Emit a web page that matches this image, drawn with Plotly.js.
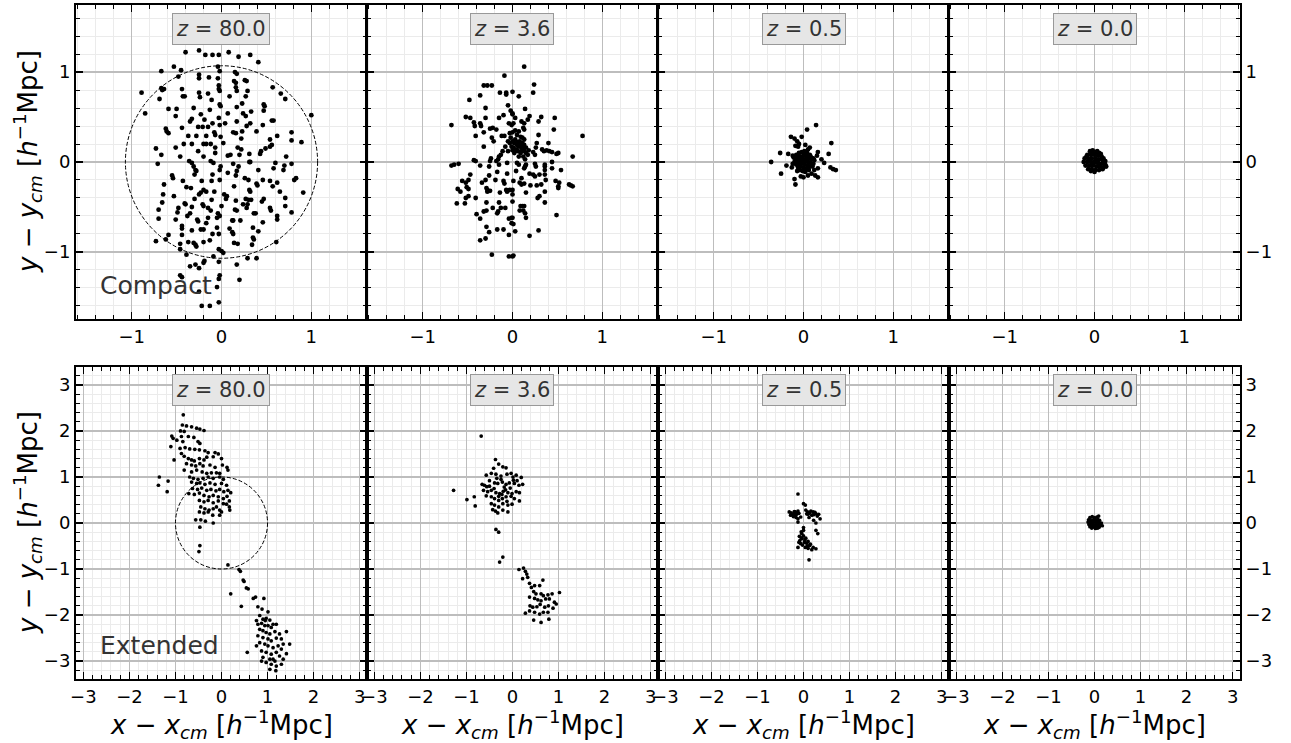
<!DOCTYPE html>
<html>
<head>
<meta charset="utf-8">
<script src="https://cdn.plot.ly/plotly-3.0.1.min.js"></script>
<style>html,body{margin:0;padding:0;background:#fff;}#plot{width:1291px;height:743px;}</style>
</head>
<body>
<div id="plot"></div>
<script>
// ---------------- DATA ----------------
const redshiftLabels = ['80.0', '3.6', '0.5', '0.0'];
const rowLabels = ['Compact', 'Extended'];
const compactRadius = 1.07;
const extendedRadius = 1.0;
const topTickVals = [-1, 0, 1];
const bottomTickVals = [-3, -2, -1, 0, 1, 2, 3];

const compact_z80 = [
[-0.03,1.36],[0.12,1.34],[-0.40,1.22],[-0.25,1.24],[-0.18,1.19],[-0.10,1.19],[-0.03,1.19],[0.08,1.22],[0.19,1.17],[0.32,1.19],[0.41,1.11],
[-0.53,1.06],[-0.67,1.01],[-0.45,1.02],[-0.04,1.06],[-0.02,1.01],[0.15,1.00],[0.17,0.98],[-0.25,0.97],[-0.14,0.94],[-0.48,0.95],[-0.25,0.93],[-0.04,0.93],[0.14,0.90],[0.16,0.88],[0.26,0.91],[0.28,0.90],
[-0.67,0.82],[-0.66,0.80],[-0.64,0.81],[-0.44,0.81],[-0.03,0.85],[-0.03,0.81],[-0.02,0.79],[0.16,0.83],[0.17,0.79],[0.29,0.79],[0.57,0.83],[-0.89,0.77],[-0.25,0.77],[-0.24,0.72],[-0.15,0.76],[-0.43,0.73],[-0.41,0.73],[0.09,0.73],[0.27,0.73],[0.66,0.76],[0.71,0.70],[-0.69,0.70],[-0.11,0.69],[-0.02,0.64],[-0.01,0.62],[0.17,0.61],[0.23,0.65],[0.47,0.64],[0.48,0.62],[0.47,0.57],[-0.31,0.60],[-0.59,0.59],[-0.50,0.59],[-0.85,0.54],[-0.51,0.51],[-0.13,0.58],[0.07,0.54],[0.24,0.54],[0.27,0.51],[0.33,0.56],[1.00,0.52],[-0.23,0.53],[-0.19,0.47],[-0.33,0.48],[-0.35,0.45],[-0.10,0.43],[-0.03,0.49],[-0.02,0.41],[0.04,0.43],[0.17,0.45],[0.28,0.40],[0.32,0.43],[0.46,0.41],[0.56,0.46],[0.58,0.46],
[-0.62,0.37],[-0.61,0.34],[-0.59,0.32],[-0.44,0.38],[-0.26,0.39],[-0.21,0.39],[-0.15,0.39],[-0.08,0.33],[-0.07,0.30],[0.13,0.33],[0.16,0.32],[0.23,0.34],[0.39,0.34],[0.78,0.33],[-0.37,0.29],[-0.28,0.29],[-0.17,0.29],[-0.01,0.28],[0.62,0.29],[0.78,0.24],[0.89,0.22],[-0.42,0.20],[-0.33,0.20],[-0.20,0.20],[-0.17,0.20],[-0.12,0.20],[0.02,0.21],[0.22,0.26],[0.54,0.25],[0.56,0.19],[0.18,0.16],[0.22,0.14],[-0.73,0.15],[0.49,0.15],[0.54,0.17],[-0.51,0.16],[-0.07,0.16],[-0.26,0.12],[-0.07,0.10],[0.10,0.08],[0.07,0.07],[0.20,0.08],[0.44,0.12],[0.43,0.09],[-0.67,0.08],[-0.46,0.06],[-0.20,0.06],[0.72,0.06],[0.31,0.09],
[0.78,-0.02],[-0.71,-0.02],[-0.36,0.01],[-0.33,-0.01],[-0.12,0.01],[-0.09,-0.01],[0.31,0.00],[0.32,0.00],[0.13,-0.02],[0.60,-0.01],[-0.31,-0.05],[-0.29,-0.09],[-0.28,-0.10],[-0.01,-0.05],[-0.02,-0.09],[0.19,-0.05],[0.17,-0.10],[0.70,-0.04],[0.58,-0.07],[0.69,-0.09],[0.41,-0.09],[-0.30,-0.14],[-0.10,-0.14],[0.07,-0.12],[-0.55,-0.15],[-0.54,-0.18],[0.16,-0.15],[0.26,-0.18],[0.30,-0.20],[0.46,-0.20],[0.54,-0.21],[-0.43,-0.21],[-0.22,-0.21],[-0.11,-0.21],[-0.02,-0.20],[0.81,-0.20],[0.83,-0.18],[0.39,-0.24],[0.40,-0.26],[-0.64,-0.25],[-0.39,-0.28],[-0.34,-0.29],[-0.20,-0.31],[-0.17,-0.33],[-0.08,-0.33],[0.14,-0.27],[0.31,-0.31],[0.32,-0.33],[0.57,-0.27],[0.62,-0.23],
[-0.25,-0.36],[-0.23,-0.34],[0.03,-0.36],[0.06,-0.38],[-0.65,-0.36],[-0.53,-0.38],[0.65,-0.33],[0.91,-0.34],[0.27,-0.41],[0.30,-0.42],[0.33,-0.42],[-0.30,-0.41],[-0.11,-0.42],[0.05,-0.41],[0.16,-0.43],[0.47,-0.41],[0.45,-0.44],[0.71,-0.40],[-0.66,-0.45],[-0.41,-0.46],[-0.40,-0.47],[-0.21,-0.47],[-0.20,-0.49],[0.24,-0.47],[0.29,-0.47],[-0.33,-0.50],[0.00,-0.49],[0.71,-0.49],[0.28,-0.51],[-0.48,-0.51],[-0.49,-0.56],[-0.15,-0.51],[-0.12,-0.54],[0.54,-0.51],[0.55,-0.54],[0.15,-0.53],[0.17,-0.54],[-0.04,-0.57],[-0.70,-0.53],[0.36,-0.57],[0.38,-0.57],[0.78,-0.56],[-0.35,-0.57],[-0.38,-0.60],[-0.02,-0.60],[0.12,-0.65],[0.13,-0.65],[0.21,-0.65],[0.46,-0.67],[0.62,-0.60],[0.62,-0.64],[-0.70,-0.63],[-0.51,-0.64],[-0.27,-0.64],[-0.26,-0.66],[-0.15,-0.62],[-0.05,-0.62],[-0.17,-0.68],
[-0.44,-0.71],[-0.44,-0.74],[-0.05,-0.73],[0.09,-0.74],[0.35,-0.73],[0.41,-0.77],[-0.33,-0.76],[-0.23,-0.75],[-0.20,-0.75],[0.12,-0.78],[0.13,-0.80],[-0.10,-0.80],[-0.03,-0.80],[-0.59,-0.81],[-0.44,-0.81],[0.35,-0.84],[0.36,-0.86],[0.61,-0.89],[-0.13,-0.87],[-0.20,-0.89],[-0.73,-0.88],[-0.62,-0.86],[-0.37,-0.89],[-0.31,-0.90],[-0.29,-0.92],[-0.28,-0.94],[-0.46,-0.91],[0.14,-0.90],[0.18,-0.91],[0.34,-0.92],[-0.46,-0.97],[-0.03,-0.97],[0.00,-0.99],[0.02,-1.01],[-0.39,-1.03],[-0.09,-1.05],[0.29,-1.07],[0.39,-1.07],[-0.19,-1.10],[-0.20,-1.12],[-0.29,-1.14],[-0.35,-1.16],[-0.25,-1.18],[-0.03,-1.11],[0.17,-1.14],[-0.46,-1.26],[-0.44,-1.28],[-0.02,-1.26],[-0.03,-1.30],[0.20,-1.31],[-0.05,-1.39],[-0.25,-1.44],[-0.22,-1.60],[-0.13,-1.60],[-0.03,-1.56]
];

const compact_z36 = [
[0.13,1.06],[-0.09,0.96],[-0.32,0.85],[-0.28,0.85],[-0.23,0.85],[0.24,0.86],[-0.14,0.77],[-0.07,0.77],[-0.07,0.75],[0.00,0.78],[0.23,0.77],[-0.36,0.74],[0.07,0.73],[-0.48,0.69],[-0.05,0.63],[-0.30,0.60],[0.14,0.59],[-0.02,0.57],[0.00,0.54],[-0.10,0.52],[-0.52,0.50],[-0.47,0.49],[-0.30,0.49],[-0.15,0.49],[0.00,0.53],[0.03,0.49],[0.19,0.51],[0.17,0.47],[0.32,0.50],[0.47,0.49],[-0.43,0.44],[-0.42,0.40],[-0.36,0.43],[-0.35,0.40],[-0.04,0.43],[-0.01,0.41],[0.01,0.43],[0.10,0.45],[0.13,0.43],[0.29,0.45],[-0.68,0.41],[-0.25,0.37],[-0.22,0.38],[-0.32,0.33],[-0.18,0.36],[0.03,0.35],[0.07,0.34],[0.12,0.38],[0.13,0.36],[0.46,0.36],[0.78,0.29],[-0.41,0.29],[-0.12,0.29],[-0.09,0.29],[-0.03,0.32],[0.00,0.33],[0.11,0.27],[0.29,0.30],[-0.23,0.27],[-0.21,0.23],
[-0.05,0.23],[-0.03,0.21],[0.00,0.23],[0.02,0.21],[0.05,0.19],[0.07,0.17],[0.10,0.16],[0.12,0.14],[0.13,0.12],[0.15,0.10],[-0.01,0.17],[0.01,0.16],[0.04,0.14],[0.06,0.12],[0.09,0.10],[0.11,0.17],[0.13,0.19],[0.03,0.25],[0.08,0.23],[0.00,0.13],[-0.05,0.12],[-0.08,0.17],[0.15,0.16],[0.17,0.08],[0.12,0.06],[0.07,0.06],[0.14,0.03],[0.05,0.30],[0.09,0.28],[-0.02,0.27],[0.11,0.21],[0.18,0.13],[0.02,0.10],[0.08,0.19],[0.10,0.12],[0.06,0.22],[0.13,0.25],
[-0.32,0.17],[0.27,0.21],[0.26,0.16],[0.40,0.21],[0.23,0.11],[0.25,0.08],[0.38,0.13],[0.41,0.12],[0.44,0.11],[0.49,0.09],[0.51,0.10],[0.33,0.14],[0.35,0.12],[-0.11,0.12],[-0.13,0.08],[-0.15,0.06],[-0.16,0.03],[-0.18,0.01],[-0.24,0.04],[-0.25,0.01],[0.67,0.06],[-0.43,0.02],[-0.41,0.01],[-0.68,-0.04],[-0.65,-0.03],[-0.60,-0.02],[-0.36,-0.04],[-0.26,-0.05],[-0.15,-0.03],[-0.06,-0.01],[0.05,-0.01],[0.07,-0.03],[0.14,-0.05],[0.15,-0.03],[0.25,-0.02],[0.26,-0.05],[0.36,-0.03],[0.36,-0.05],[0.44,0.00],[0.13,-0.07],[0.36,-0.09],[0.44,-0.07],[0.54,-0.09],[-0.17,-0.11],[-0.06,-0.13],[0.04,-0.10],[0.19,-0.13],[0.23,-0.14],[0.25,-0.16],[0.30,-0.14],[-0.47,-0.14],[-0.26,-0.15],[0.36,-0.14],[0.10,-0.18],
[-0.49,-0.20],[-0.52,-0.23],[-0.56,-0.21],[-0.19,-0.20],[-0.10,-0.21],[-0.09,-0.24],[-0.34,-0.23],[-0.30,-0.20],[0.01,-0.21],[0.37,-0.20],[0.48,-0.21],[0.52,-0.23],[0.63,-0.25],[0.65,-0.26],[0.67,-0.27],[0.32,-0.25],[0.08,-0.23],[0.10,-0.25],[0.13,-0.24],[0.20,-0.26],[0.27,-0.26],[0.51,-0.27],[0.51,-0.29],[-0.61,-0.30],[-0.58,-0.33],[-0.51,-0.28],[-0.49,-0.30],[-0.29,-0.29],[-0.28,-0.31],[-0.25,-0.32],[-0.28,-0.33],[-0.07,-0.31],[-0.06,-0.33],[-0.03,-0.31],[0.00,-0.31],[0.15,-0.34],[-0.14,-0.34],[0.36,-0.33],[-0.52,-0.40],[-0.49,-0.38],[-0.53,-0.46],[-0.62,-0.46],[-0.41,-0.40],[0.00,-0.36],[0.00,-0.44],[0.28,-0.40],[0.30,-0.38],[0.36,-0.45],[-0.15,-0.45],[-0.29,-0.45],[0.09,-0.49],[0.11,-0.49],[0.13,-0.49],[-0.22,-0.51],[-0.13,-0.51],[-0.08,-0.51],[0.08,-0.54],[0.12,-0.54],[0.14,-0.57],[-0.32,-0.55],[-0.29,-0.54],[-0.17,-0.57],[-0.16,-0.55],[-0.40,-0.58],[0.49,-0.59],[-0.36,-0.63],[-0.01,-0.62],[0.00,-0.62],[-0.04,-0.63],[0.15,-0.62],[-0.01,-0.68],[0.01,-0.69],[-0.29,-0.72],[-0.17,-0.75],[-0.10,-0.75],[0.03,-0.77],[0.29,-0.76],[-0.26,-0.78],[-0.04,-0.81],[0.19,-0.82],[-0.30,-0.85],[-0.36,-0.87],[-0.23,-1.03],[-0.04,-1.05],[0.00,-1.05],[0.01,-1.04]
];

const compact_z05 = [
[0.14,0.41],[0.04,0.36],[-0.14,0.28],[-0.10,0.26],[-0.07,0.23],[-0.02,0.28],[0.31,0.21],[-0.09,0.18],[-0.06,0.17],[0.07,0.16],[0.05,0.14],[0.16,0.11],[-0.26,0.10],[-0.17,0.09],[0.28,0.09],[-0.36,0.00],[0.15,0.07],[0.23,-0.01],[0.30,-0.06],[0.33,-0.08],[0.36,-0.09],[-0.19,-0.04],[0.16,-0.07],[-0.25,-0.13],[-0.07,-0.10],[-0.03,-0.16],[0.00,-0.17],[0.09,-0.13],[0.13,-0.15],[0.16,-0.17],[-0.10,-0.19],[-0.09,-0.25],[0.05,-0.15],[-0.12,0.07],[0.11,0.04],[-0.13,-0.06],[0.12,-0.09],[0.20,0.03],[-0.05,0.20],[0.02,0.19],
[-0.08,0.08],[-0.05,0.10],[-0.02,0.11],[0.01,0.12],[0.04,0.10],[0.07,0.08],[-0.09,0.04],[-0.06,0.05],[-0.03,0.06],[0.00,0.07],[0.03,0.06],[0.06,0.04],[0.09,0.03],[-0.10,0.00],[-0.07,0.01],[-0.04,0.02],[-0.01,0.03],[0.02,0.02],[0.05,0.00],[0.08,-0.01],[0.11,-0.02],[-0.08,-0.03],[-0.05,-0.02],[-0.02,-0.01],[0.01,-0.02],[0.04,-0.04],[0.07,-0.05],[0.10,-0.05],[-0.06,-0.06],[-0.03,-0.05],[0.00,-0.06],[0.03,-0.08],[0.06,-0.09],[-0.04,-0.09],[-0.01,-0.10],[0.02,-0.11],[0.00,0.00],[-0.02,0.05],[0.03,0.03],[0.01,0.09],[-0.06,0.08],[0.05,-0.07],[-0.11,0.05],[0.08,0.06],[0.12,0.02],[-0.12,-0.02]
];

const compact_z00 = [
[-0.05,0.12],[-0.02,0.13],[0.02,0.11],[0.05,0.10],[-0.08,0.08],[-0.04,0.08],[0.00,0.08],[0.04,0.07],[0.08,0.06],[-0.11,0.04],[-0.07,0.04],[-0.03,0.04],[0.01,0.04],[0.05,0.03],[0.09,0.02],[0.12,0.01],[-0.12,0.00],[-0.08,0.00],[-0.04,0.00],[0.00,0.00],[0.04,-0.01],[0.08,-0.02],[0.12,-0.03],[-0.10,-0.04],[-0.06,-0.04],[-0.02,-0.04],[0.02,-0.05],[0.06,-0.05],[0.10,-0.06],[0.13,-0.05],[-0.07,-0.08],[-0.03,-0.08],[0.01,-0.09],[0.05,-0.09],[0.09,-0.08],[-0.04,-0.10],[0.00,-0.11],[0.03,0.12],[-0.09,0.06],[0.07,0.09],[0.10,0.04],[-0.01,-0.02],[0.03,0.01],[-0.05,0.02],[0.06,-0.03],[-0.02,0.10],[0.11,-0.01]
];

const extended_z80 = [
[-0.85,2.70],[-0.83,2.35],[-0.85,2.13],[-0.76,2.11],[-0.65,2.09],[-0.54,2.06],[-0.47,2.04],[-0.38,2.01],[-1.08,1.89],[-1.05,1.84],[-0.89,2.00],[-0.81,1.99],[-0.87,1.88],[-0.72,1.88],[-0.60,1.86],[-0.97,1.80],[-0.84,1.77],[-0.51,1.77],[-0.47,1.73],[-1.10,1.66],[-0.90,1.62],[-0.79,1.64],[-0.69,1.61],[-0.58,1.60],[-0.48,1.59],[-0.36,1.57],[-0.29,1.53],[-0.14,1.53],[-0.07,1.50],[-0.87,1.51],[-0.81,1.45],[-1.03,1.37],[-0.72,1.40],[-0.65,1.37],[-0.59,1.35],[-0.48,1.40],[-0.38,1.37],[-0.32,1.43],[-0.18,1.44],[0.00,1.40],
[-0.76,1.29],[-0.65,1.26],[-0.56,1.24],[-0.47,1.29],[-0.40,1.24],[-0.25,1.26],[-0.14,1.21],[0.02,1.26],[0.12,1.21],[0.14,1.15],[-0.81,1.15],[-0.65,1.11],[-0.54,1.15],[-0.42,1.11],[-0.32,1.08],[-0.22,1.09],[-0.11,1.09],[-0.04,1.08],[-1.35,1.00],[-1.37,0.82],[-1.16,0.91],[-1.18,0.68],[-0.69,1.00],[-0.61,0.97],[-0.51,0.95],[-0.40,0.97],[-0.29,1.00],[-0.18,0.97],[-0.04,1.00],[0.04,0.95],
[-0.65,0.89],[-0.54,0.86],[-0.47,0.87],[-0.36,0.84],[-0.25,0.87],[-0.14,0.84],[0.00,0.86],[0.11,0.82],[-0.63,0.75],[-0.52,0.73],[-0.43,0.76],[-0.32,0.71],[-0.23,0.73],[-0.12,0.70],[-0.04,0.73],[0.05,0.68],[0.14,0.71],[-0.71,0.64],[-0.59,0.62],[-0.48,0.65],[-0.38,0.60],[-0.27,0.57],[-0.18,0.60],[-0.07,0.57],[0.04,0.53],[0.12,0.58],[0.20,0.66],
[-0.48,0.49],[-0.38,0.46],[-0.29,0.49],[-0.18,0.44],[-0.07,0.48],[0.04,0.42],[0.11,0.41],[0.17,0.48],[-0.45,0.35],[-0.36,0.31],[-0.27,0.28],[-0.18,0.31],[-0.11,0.35],[-0.04,0.28],[0.00,0.24],[0.17,0.35],[0.18,0.28],[-0.48,0.24],[-0.38,0.22],[-0.29,0.24],[-0.19,0.17],[-0.04,0.17],[-0.56,0.07],[-0.45,0.07],[-0.35,0.04],[-0.18,0.00],[-0.47,-0.09],[-0.47,-0.49],[-0.49,-0.62],
[0.14,-0.91],[0.38,-1.01],[0.41,-1.05],[0.47,-1.24],[0.49,-1.27],[0.20,-1.54],[0.54,-1.41],[0.58,-1.43],[0.69,-1.64],[0.74,-1.61],[0.92,-1.64],[0.43,-1.81],[0.79,-1.82],[0.88,-1.87],[1.01,-1.93],
[0.83,-2.01],[0.90,-2.09],[0.95,-2.12],[0.97,-2.07],[1.05,-2.11],[1.12,-2.20],[0.76,-2.12],[0.79,-2.20],[0.87,-2.18],[0.94,-2.23],[1.01,-2.23],[1.08,-2.27],[1.19,-2.20],[0.83,-2.31],[0.90,-2.34],[0.97,-2.38],[1.05,-2.41],[1.16,-2.36],[1.26,-2.41],[1.41,-2.36],[0.79,-2.45],[0.90,-2.49],[1.01,-2.52],[1.08,-2.56],[1.19,-2.50],[1.30,-2.52],[1.48,-2.63],[1.34,-2.63],[0.83,-2.60],[0.94,-2.63],[1.01,-2.67],[1.12,-2.71],[1.23,-2.67],[1.30,-2.74],[0.76,-2.67],[0.56,-2.81],[0.87,-2.78],[0.97,-2.81],[1.08,-2.85],[1.19,-2.81],[1.26,-2.89],[1.41,-2.84],[0.90,-2.92],[1.05,-2.96],[1.16,-3.00],[0.97,-3.03],[1.08,-3.07],[1.19,-3.11],[1.30,-3.07],[0.87,-3.00],[1.05,-3.18],[1.18,-3.21],[1.12,-2.96],[1.34,-2.96]
];

const extended_z36 = [
[-0.68,1.89],[-0.37,1.38],[-0.41,1.19],[-0.30,1.28],[-0.21,1.22],[-0.14,1.20],[-0.57,1.04],[-0.46,1.08],[-0.36,1.06],[-0.25,1.02],[-0.12,1.06],[-0.03,1.08],[0.01,1.00],[0.08,1.04],[0.19,0.99],[-0.66,0.84],[-0.61,0.82],[-0.56,0.79],[-0.50,0.80],[-0.39,0.87],[-0.32,0.86],[-0.22,0.89],[-0.14,0.84],[-0.07,0.87],[0.04,0.86],[0.14,0.82],[0.22,0.84],
[-0.63,0.71],[-0.54,0.68],[-0.46,0.71],[-0.36,0.66],[-0.28,0.64],[-0.20,0.69],[-0.10,0.66],[-0.01,0.64],[0.08,0.68],[0.15,0.66],[-0.57,0.59],[-0.46,0.57],[-0.39,0.53],[-0.30,0.49],[-0.22,0.53],[-0.14,0.57],[-0.03,0.58],[0.04,0.53],[0.15,0.48],[-1.28,0.71],[-0.99,0.51],[-0.83,0.57],[-0.81,0.37],[-0.46,0.42],[-0.39,0.39],[-0.30,0.35],[-0.21,0.42],[-0.10,0.39],[-0.01,0.41],[-0.43,0.29],[-0.37,0.26],[-0.32,0.22],[-0.21,0.28],[-0.10,0.24],
[-0.25,0.95],[-0.18,0.78],[-0.40,0.75],[-0.05,0.76],[0.02,0.93],[-0.30,0.58],[-0.12,0.47],[-0.50,0.92],[0.10,0.92],[-0.34,0.97],[-0.23,0.62],[-0.15,0.72],
[-0.36,-0.14],[-0.30,-0.20],[-0.28,-0.85],[-0.21,-0.74],[0.14,-1.01],[0.24,-0.98],[0.28,-1.05],[0.31,-1.11],[0.22,-1.21],[0.33,-1.18],[0.37,-1.31],[0.41,-1.40],[0.48,-1.36],[0.59,-1.36],[0.66,-1.24],[0.46,-1.49],[0.51,-1.54],[0.62,-1.54],[0.67,-1.58],[0.77,-1.56],[0.86,-1.54],[1.02,-1.51],[0.37,-1.61],[0.48,-1.64],[0.55,-1.67],[0.62,-1.69],[0.72,-1.65],[0.80,-1.65],[0.91,-1.72],[0.95,-1.76],[0.38,-1.80],[0.44,-1.83],[0.53,-1.82],[0.60,-1.77],[0.70,-1.83],[0.78,-1.80],[0.88,-1.85],[0.28,-1.96],[0.37,-1.91],[0.48,-1.94],[0.59,-1.98],[0.67,-1.94],[0.77,-1.94],[0.46,-2.11],[0.62,-2.16],[0.79,-2.09]
];

const extended_z05 = [
[-0.12,0.63],[0.00,0.42],[0.04,0.39],[-0.31,0.24],[-0.27,0.22],[-0.22,0.20],[-0.18,0.24],[-0.13,0.22],[-0.18,0.17],[0.09,0.24],[0.13,0.22],[0.21,0.24],[0.27,0.20],[0.33,0.19],[0.18,0.17],[-0.12,0.09],[-0.06,0.13],[-0.12,0.02],[0.22,0.06],[0.27,0.00],[0.36,0.09],[0.27,-0.16],[0.31,-0.23],
[0.00,-0.16],[-0.04,-0.23],[-0.09,-0.29],[-0.03,-0.34],[0.03,-0.38],[0.07,-0.44],[0.13,-0.49],[0.21,-0.53],[0.27,-0.56],[-0.06,-0.45],[-0.12,-0.53],[0.04,-0.53],[0.12,-0.80],
[-0.24,0.18],[-0.20,0.25],[-0.15,0.19],[-0.10,0.21],[-0.28,0.17],[-0.16,0.12],[-0.22,0.14],[-0.12,0.26],[0.05,0.28],[0.10,0.19],[0.16,0.26],[0.22,0.18],[0.25,0.23],[0.30,0.15],[0.12,0.12],[0.07,0.20],
[-0.05,-0.32],[0.00,-0.28],[0.05,-0.33],[-0.08,-0.38],[0.02,-0.42],[0.10,-0.40],[-0.02,-0.48],[0.08,-0.50],[0.15,-0.46],[-0.10,-0.42],[0.00,-0.10],[-0.05,-0.19],[0.10,-0.55],[0.18,-0.58]
];

const extended_z00 = [
[-0.10,0.12],[-0.05,0.14],[0.00,0.10],[0.05,0.13],[0.09,0.15],[-0.13,0.07],[-0.08,0.07],[-0.03,0.06],[0.02,0.06],[0.07,0.08],[0.11,0.06],[-0.14,0.02],[-0.09,0.02],[-0.04,0.01],[0.01,0.02],[0.06,0.02],[0.10,0.01],[0.15,0.00],[-0.12,-0.03],[-0.07,-0.03],[-0.02,-0.04],[0.03,-0.03],[0.08,-0.04],[0.13,-0.05],[0.17,-0.06],[-0.10,-0.08],[-0.05,-0.08],[0.00,-0.09],[0.05,-0.08],[0.10,-0.09],[-0.06,-0.11],[0.02,-0.12],[0.07,-0.11],[-0.01,0.12],[0.04,0.04],[-0.06,0.04]
];

// ---------------- LAYOUT ----------------
const W = 1291, H = 743;
const panelLeft = 76, panelW = 291;
const rows = [
  {top: 5, bottom: 319, xr: 1.62, yr: 1.745, ticks: topTickVals, msize: 4.8, radius: compactRadius,
   sets: [compact_z80, compact_z36, compact_z05, compact_z00]},
  {top: 367, bottom: 679, xr: 3.16, yr: 3.39, ticks: bottomTickVals, msize: 3.7, radius: extendedRadius,
   sets: [extended_z80, extended_z36, extended_z05, extended_z00]}
];

const tickFont = {family: 'DejaVu Sans', size: 18, color: '#000'};
const traces = [];
const layout = {
  width: W, height: H, margin: {l: 0, r: 0, t: 0, b: 0},
  paper_bgcolor: '#fff', plot_bgcolor: '#fff', showlegend: false,
  annotations: [], shapes: []
};

function axisBase(range, domain, anchor, tickvals) {
  return {
    domain: domain, range: range, anchor: anchor,
    tickmode: 'array', tickvals: tickvals,
    ticks: 'inside', ticklen: 7, tickwidth: 1.5, tickcolor: '#000',
    showline: true, linecolor: '#000', linewidth: 2, mirror: 'allticks',
    showgrid: true, gridcolor: '#bdbdbd', gridwidth: 1.5, zeroline: false,
    minor: {dtick: 0.2, tick0: 0, ticks: 'inside', ticklen: 4, tickwidth: 1, tickcolor: '#000',
            showgrid: true, gridcolor: '#ebebeb', gridwidth: 1},
    tickfont: tickFont, fixedrange: true
  };
}

const axisTitleFont = {family: 'DejaVu Sans', size: 26, color: '#000'};
const yTitle = '<i>y</i> − <i>y</i><sub><i>cm</i></sub> [<i>h</i><sup>−1</sup>Mpc]';
const xTitle = '<i>x</i> − <i>x</i><sub><i>cm</i></sub> [<i>h</i><sup>−1</sup>Mpc]';

let k = 0;
rows.forEach((row, r) => {
  const yDom = [1 - row.bottom / H, 1 - row.top / H];
  row.sets.forEach((pts, c) => {
    k++;
    const xs = k === 1 ? 'x' : 'x' + k;
    const ys = k === 1 ? 'y' : 'y' + k;
    const xDom = [(panelLeft + panelW * c) / W, (panelLeft + panelW * (c + 1)) / W];
    const xa = axisBase([-row.xr, row.xr], xDom, ys, row.ticks);
    const ya = axisBase([-row.yr, row.yr], yDom, xs, row.ticks);
    xa.showticklabels = true;
    ya.showticklabels = (c === 0 || c === 3);
    if (c === 3) ya.side = 'right';
    layout['xaxis' + (k === 1 ? '' : k)] = xa;
    layout['yaxis' + (k === 1 ? '' : k)] = ya;

    traces.push({
      type: 'scatter', mode: 'markers', xaxis: xs, yaxis: ys,
      x: pts.map(p => p[0]), y: pts.map(p => p[1]),
      marker: {color: '#000', size: row.msize, line: {width: 0}},
      hoverinfo: 'skip', cliponaxis: true
    });

    layout.annotations.push({
      xref: xs + ' domain', yref: ys + ' domain', x: 0.5, y: r === 0 ? 0.925 : 0.926,
      xanchor: 'center', yanchor: 'middle', showarrow: false,
      text: '<i>z</i> = ' + redshiftLabels[c],
      font: {family: 'DejaVu Sans', size: 21, color: '#333'},
      bgcolor: '#e6e6e6', bordercolor: '#999', borderwidth: 1, borderpad: 3
    });

    if (c === 0) {
      layout.shapes.push({
        type: 'circle', xref: xs, yref: ys,
        x0: -row.radius, x1: row.radius, y0: -row.radius, y1: row.radius,
        line: {color: '#000', width: 1, dash: '4px,2px'}, layer: 'above'
      });
      layout.annotations.push({
        xref: xs + ' domain', yref: ys + ' domain', x: 0.075, y: 0.107,
        xanchor: 'left', yanchor: 'middle', showarrow: false,
        text: rowLabels[r], font: {family: 'DejaVu Sans', size: 25, color: '#333'}
      });
      const yc = (row.top + row.bottom) / 2;
      layout.annotations.push({
        xref: 'paper', yref: 'paper', x: 27 / W, y: 1 - yc / H,
        xanchor: 'center', yanchor: 'middle', showarrow: false, textangle: -90,
        text: yTitle, font: axisTitleFont
      });
    }
    if (r === 1) {
      layout.annotations.push({
        xref: 'paper', yref: 'paper', x: (panelLeft + panelW * (c + 0.5)) / W, y: 1 - 724 / H,
        xanchor: 'center', yanchor: 'middle', showarrow: false,
        text: xTitle, font: axisTitleFont
      });
    }
  });
});

Plotly.newPlot('plot', traces, layout, {staticPlot: true, displayModeBar: false});
</script>
</body>
</html>
